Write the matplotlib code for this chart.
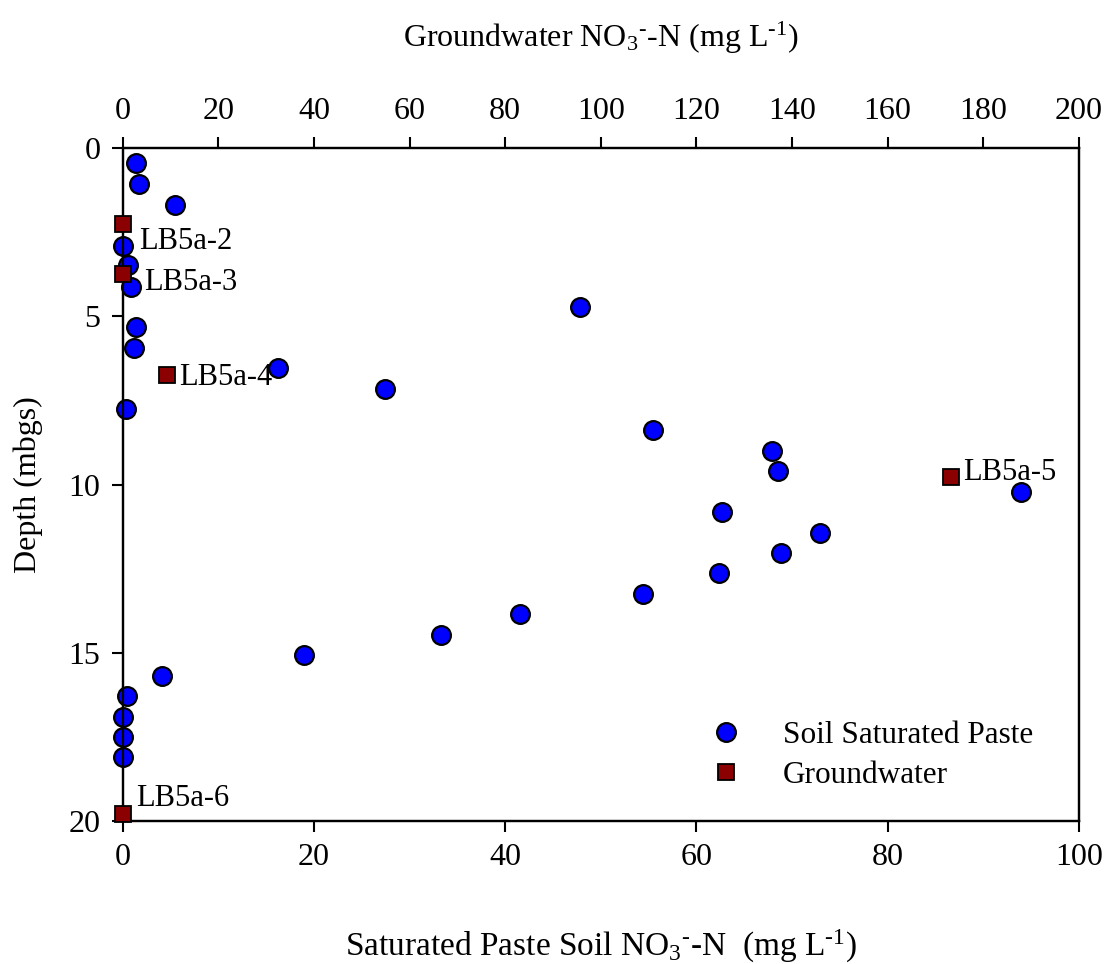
import matplotlib
matplotlib.use('Agg')
import matplotlib.pyplot as plt

# Soil saturated paste NO3-N (bottom axis) vs depth
soil_no3 = [1.4, 1.7, 5.5, 0.0, 0.55, 0.87, 47.8, 1.36, 1.18, 16.2, 27.4, 0.31,
            55.5, 67.9, 68.5, 93.9, 62.7, 72.9, 68.8, 62.4, 54.4, 41.5, 33.3,
            19.0, 4.1, 0.48, 0.0, 0.0, 0.0]
soil_depth = [0.45, 1.05, 1.68, 2.90, 3.47, 4.11, 4.72, 5.32, 5.94, 6.54, 7.17, 7.76,
              8.38, 8.99, 9.59, 10.21, 10.81, 11.43, 12.03, 12.64, 13.25, 13.85, 14.47,
              15.06, 15.68, 16.29, 16.91, 17.50, 18.10]

# Groundwater NO3-N (top axis) vs depth
gw_no3 = [0.0, 0.0, 9.3, 173.2, 0.0]
gw_depth = [2.25, 3.75, 6.75, 9.76, 19.78]
gw_names = ['LB5a-2', 'LB5a-3', 'LB5a-4', 'LB5a-5', 'LB5a-6']

plt.rcParams['font.family'] = ['Liberation Serif', 'DejaVu Serif']
plt.rcParams['mathtext.fontset'] = 'custom'
plt.rcParams['mathtext.rm'] = 'Liberation Serif'
plt.rcParams['mathtext.it'] = 'Liberation Serif:italic'
plt.rcParams['font.size'] = 23

fig = plt.figure(figsize=(11.1, 9.64), dpi=100)
ax = fig.add_axes([0.1105, 0.1483, 0.8615, 0.6979])

soil = ax.plot(soil_no3, soil_depth, 'o', color='blue', markeredgecolor='black',
               markeredgewidth=1.6, markersize=13.5, clip_on=False, zorder=3,
               label='Soil Saturated Paste')[0]
ax.set_xlim(0, 100)
ax.set_ylim(20, 0)
ax.set_xticks(range(0, 101, 20))
ax.set_yticks(range(0, 21, 5))
ax.set_xlabel(r'Saturated Paste Soil NO$_3$$^{\text{-}}$-N  (mg L$^{\text{-1}}$)',
              labelpad=40, fontsize=24)
ax.set_ylabel('Depth (mbgs)', labelpad=18)

ax2 = ax.twiny()
gw = ax2.plot(gw_no3, gw_depth, 's', color='#8b0000', markeredgecolor='black',
              markeredgewidth=1.3, markersize=11, clip_on=False, zorder=4,
              label='Groundwater')[0]
ax2.set_xlim(0, 200)
ax2.set_xticks(range(0, 201, 20))
ax2.set_xlabel(r'Groundwater NO$_3$$^{\text{-}}$-N (mg L$^{\text{-1}}$)',
               labelpad=36)

offsets = [(16, -18), (21, -8), (12, -2), (12, 4), (13, 15)]
for x, y, name, off in zip(gw_no3, gw_depth, gw_names, offsets):
    ax2.annotate(name, (x, y), xytext=off, textcoords='offset pixels',
                 ha='left', va='center', fontsize=22)

for a in (ax, ax2):
    for s in a.spines.values():
        s.set_linewidth(1.6)
    a.tick_params(direction='out', length=8, width=1.5, pad=8, labelsize=23)
ax.tick_params(top=False, right=False)

fig.legend([soil, gw], ['Soil Saturated Paste', 'Groundwater'], loc='upper left',
           bbox_to_anchor=(0.601, 0.281), frameon=False, fontsize=22.5,
           labelspacing=0.35)

fig.savefig('out.png', dpi=100)
